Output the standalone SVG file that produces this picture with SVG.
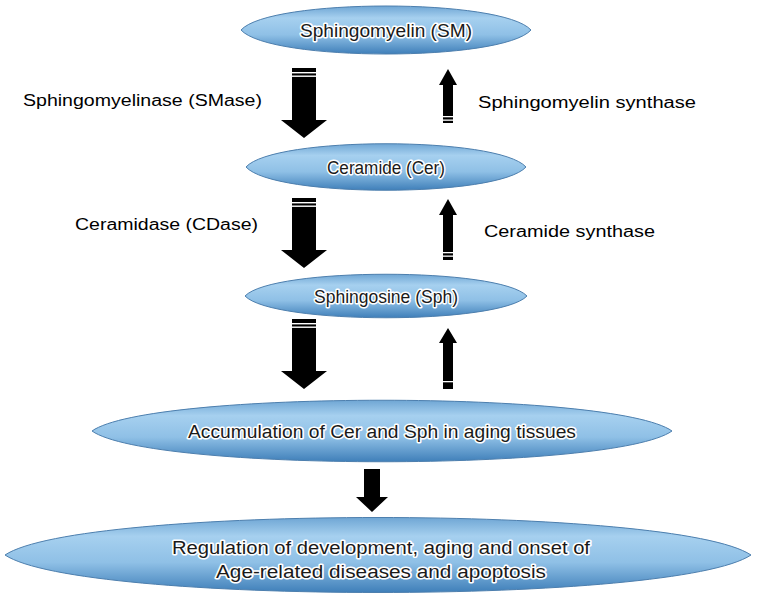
<svg xmlns="http://www.w3.org/2000/svg" width="757" height="596" viewBox="0 0 757 596">
<defs>
<linearGradient id="g" x1="0" y1="0" x2="0" y2="1">
<stop offset="0" stop-color="#6fa6d4"/>
<stop offset="0.25" stop-color="#a6d0ef"/>
<stop offset="0.6" stop-color="#8fc0e6"/>
<stop offset="1" stop-color="#3f7fb9"/>
</linearGradient>
<g id="down">
<path d="M-12,0 H12 V52 H23 L0,70 L-23,52 H-12 Z" fill="#000"/>
<rect x="-12" y="4" width="24" height="1.4" fill="#fff"/>
<rect x="-12" y="7.5" width="24" height="1.4" fill="#fff"/>
</g>
</defs>
<style>
.node path{fill:url(#g);stroke:#4d7fae;stroke-width:1}
.nt{font-family:"Liberation Sans",Arial,sans-serif;font-size:18px;fill:#1a1a1a;stroke:#fff;stroke-width:3;paint-order:stroke;stroke-linejoin:round;text-anchor:middle}
.lbl{font-family:"Liberation Sans",Arial,sans-serif;font-size:16px;fill:#000}
</style>
<rect width="757" height="596" fill="#fff"/>
<g id="n-sm" class="node"><path d="M241,30 C270,-2 502,-2 531,30 C502,62 270,62 241,30 Z"/><text class="nt" x="386" y="37" textLength="172" lengthAdjust="spacingAndGlyphs">Sphingomyelin (SM)</text></g>
<g id="n-cer" class="node"><path d="M246,167 C274,136 498,136 526,167 C498,198 274,198 246,167 Z"/><text class="nt" x="386" y="174" textLength="118" lengthAdjust="spacingAndGlyphs">Ceramide (Cer)</text></g>
<g id="n-sph" class="node"><path d="M245,296 C273,267 499,267 527,296 C499,325 273,325 245,296 Z"/><text class="nt" x="386" y="303" textLength="144" lengthAdjust="spacingAndGlyphs">Sphingosine (Sph)</text></g>
<g id="n-acc" class="node"><path d="M92,431 C150,390 614,390 672,431 C614,472 150,472 92,431 Z"/><text class="nt" x="382" y="438" textLength="388" lengthAdjust="spacingAndGlyphs">Accumulation of Cer and Sph in aging tissues</text></g>
<g id="n-reg" class="node"><path d="M5,555 C80,505 676,505 751,555 C676,605 80,605 5,555 Z"/><text class="nt" x="381" y="554" textLength="418" lengthAdjust="spacingAndGlyphs">Regulation of development, aging and onset of</text><text class="nt" x="381" y="578" textLength="330" lengthAdjust="spacingAndGlyphs">Age-related diseases and apoptosis</text></g>
<g id="connectors">
<use href="#down" x="304" y="68"/>
<use href="#down" x="304" y="198"/>
<use href="#down" x="304" y="319"/>
<path d="M364,469 H380 V497 H388 L372,512 L356,497 H364 Z" fill="#000"/>
<g id="up1"><path d="M443,123 V85 H439 L448,69 L457,85 H453 V123 Z" fill="#000"/><rect x="443" y="116" width="10" height="1.3" fill="#fff"/><rect x="443" y="119.5" width="10" height="1.3" fill="#fff"/></g>
<g id="up2"><path d="M443,260 V215 H439 L448,199 L457,215 H453 V260 Z" fill="#000"/><rect x="443" y="252" width="10" height="1.3" fill="#fff"/><rect x="443" y="255.5" width="10" height="1.3" fill="#fff"/></g>
<g id="up3"><path d="M443,389 V343 H439 L448,328 L457,343 H453 V389 Z" fill="#000"/><rect x="443" y="381" width="10" height="1.3" fill="#fff"/></g>
</g>
<text class="lbl" x="23" y="106" textLength="239" lengthAdjust="spacingAndGlyphs">Sphingomyelinase (SMase)</text>
<text class="lbl" x="478" y="108" textLength="218" lengthAdjust="spacingAndGlyphs">Sphingomyelin synthase</text>
<text class="lbl" x="75" y="230" textLength="183" lengthAdjust="spacingAndGlyphs">Ceramidase (CDase)</text>
<text class="lbl" x="484" y="237" textLength="171" lengthAdjust="spacingAndGlyphs">Ceramide synthase</text>
</svg>
